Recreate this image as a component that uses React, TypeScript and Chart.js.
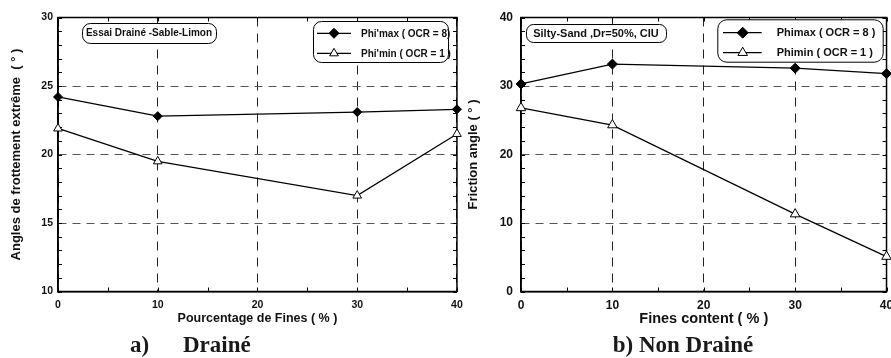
import React, { useEffect, useRef } from 'react';
import { Chart, registerables } from 'chart.js';

Chart.register(...registerables);

// ---------- data ----------
const finesContent = [0, 10, 30, 40];
const drainedPhiMax = [24.2, 22.8, 23.1, 23.3];
const drainedPhiMin = [21.9, 19.5, 17.0, 21.5];
const undrainedPhiMax = [30.3, 33.2, 32.6, 31.8];
const undrainedPhiMin = [26.8, 24.3, 11.3, 5.1];

const xTickValues = [0, 10, 20, 30, 40];
const drainedYTicks = [10, 15, 20, 25, 30];
const undrainedYTicks = [0, 10, 20, 30, 40];

const drainedLabels = ["Phi'max ( OCR = 8)", "Phi'min ( OCR = 1 )"];
const undrainedLabels = ['Phimax ( OCR = 8 )', 'Phimin ( OCR = 1 )'];

const drainedNote = 'Essai Drainé -Sable-Limon';
const undrainedNote = 'Silty-Sand ,Dr=50%, CIU';

const drainedXTitle = 'Pourcentage de Fines ( % )';
const drainedYTitle = 'Angles de frottement extrême  ( ° )';
const undrainedXTitle = 'Fines content ( % )';
const undrainedYTitle = 'Friction angle ( ° )';

const drainedCaption = ['a)', 'Drainé'];
const undrainedCaption = ['b) Non Drainé'];

// ---------- styling ----------
const SANS = '"Liberation Sans", Arial, Helvetica, sans-serif';
const SERIF = '"Liberation Serif", "Times New Roman", serif';
const H = 358;

function drawMarker(ctx: CanvasRenderingContext2D, style: string, x: number, y: number, r: number, fill: string) {
  ctx.beginPath();
  if (style === 'rectRot') {
    ctx.moveTo(x, y - r);
    ctx.lineTo(x + r, y);
    ctx.lineTo(x, y + r);
    ctx.lineTo(x - r, y);
  } else {
    let rad = 0;
    ctx.moveTo(x + Math.sin(rad) * r, y - Math.cos(rad) * r);
    rad += (2 * Math.PI) / 3;
    ctx.lineTo(x + Math.sin(rad) * r, y - Math.cos(rad) * r);
    rad += (2 * Math.PI) / 3;
    ctx.lineTo(x + Math.sin(rad) * r, y - Math.cos(rad) * r);
  }
  ctx.closePath();
  ctx.fillStyle = fill;
  ctx.fill();
  ctx.strokeStyle = '#000';
  ctx.lineWidth = 1;
  ctx.stroke();
}

type Decor = {
  xMinor: number;
  yMinor: number;
  tickLen: number;
  note: { text: string; dx: number; dy: number; w: number; h: number; r: number; size: number };
  legend: {
    labels: string[];
    dx: number; dy: number; w: number; h: number; r: number;
    lx0: number; lx1: number; mx: number; tx: number; rows: number[]; size: number; mr: number;
  };
  caption: { parts: { text: string; x: number }[]; baseline: number; size: number };
};

function makeDecor(d: Decor) {
  return {
    id: 'decor',
    beforeDatasetsDraw(chart: any) {
      const { ctx, chartArea: a, scales } = chart;
      const xs = scales.x;
      const ys = scales.y;
      ctx.save();
      ctx.strokeStyle = '#000';
      ctx.lineWidth = 1;
      ctx.beginPath();
      for (let v = xs.min; v <= xs.max + 1e-9; v += d.xMinor) {
        const px = Math.round(xs.getPixelForValue(v)) + 0.5;
        ctx.moveTo(px, a.bottom);
        ctx.lineTo(px, a.bottom - d.tickLen);
        ctx.moveTo(px, a.top);
        ctx.lineTo(px, a.top + d.tickLen);
      }
      for (let v = ys.min; v <= ys.max + 1e-9; v += d.yMinor) {
        const py = Math.round(ys.getPixelForValue(v)) + 0.5;
        ctx.moveTo(a.left, py);
        ctx.lineTo(a.left + d.tickLen, py);
        ctx.moveTo(a.right, py);
        ctx.lineTo(a.right - d.tickLen, py);
      }
      ctx.stroke();
      ctx.lineWidth = 1.5;
      ctx.strokeRect(a.left, a.top, a.right - a.left, a.bottom - a.top);
      ctx.restore();
    },
    afterDatasetsDraw(chart: any) {
      const { ctx, chartArea: a } = chart;
      ctx.save();
      // note box
      const n = d.note;
      ctx.beginPath();
      ctx.roundRect(a.left + n.dx + 0.5, a.top + n.dy + 0.5, n.w, n.h, n.r);
      ctx.fillStyle = '#fff';
      ctx.fill();
      ctx.strokeStyle = '#000';
      ctx.lineWidth = 1;
      ctx.stroke();
      ctx.fillStyle = '#111';
      ctx.font = `bold ${n.size}px ${SANS}`;
      ctx.textAlign = 'center';
      ctx.textBaseline = 'middle';
      ctx.fillText(n.text, a.left + n.dx + n.w / 2, a.top + n.dy + n.h / 2 + 0.5);

      // legend box
      const L = d.legend;
      ctx.beginPath();
      ctx.roundRect(a.left + L.dx + 0.5, a.top + L.dy + 0.5, L.w, L.h, L.r);
      ctx.fillStyle = '#fff';
      ctx.fill();
      ctx.strokeStyle = '#000';
      ctx.lineWidth = 1;
      ctx.stroke();
      chart.data.datasets.forEach((ds: any, i: number) => {
        const y = a.top + L.rows[i];
        ctx.beginPath();
        ctx.moveTo(a.left + L.lx0, y);
        ctx.lineTo(a.left + L.lx1, y);
        ctx.strokeStyle = '#000';
        ctx.lineWidth = 1.2;
        ctx.stroke();
        drawMarker(ctx, ds.pointStyle, a.left + L.mx, y, L.mr, ds.pointBackgroundColor);
        ctx.fillStyle = '#111';
        ctx.font = `bold ${L.size}px ${SANS}`;
        ctx.textAlign = 'left';
        ctx.textBaseline = 'middle';
        ctx.fillText(L.labels[i], a.left + L.tx, y + 0.5);
      });
      ctx.restore();
    },
    afterDraw(chart: any) {
      const { ctx } = chart;
      ctx.save();
      ctx.fillStyle = '#1a1a1a';
      ctx.font = `bold ${d.caption.size}px ${SERIF}`;
      ctx.textAlign = 'left';
      ctx.textBaseline = 'alphabetic';
      d.caption.parts.forEach((p) => ctx.fillText(p.text, p.x, d.caption.baseline));
      ctx.restore();
    },
  };
}

type PanelCfg = {
  maxData: number[];
  minData: number[];
  labels: string[];
  yMin: number;
  yMax: number;
  yTicks: number[];
  xTitle: string;
  yTitle: string;
  tickSize: number;
  xTitleSize: number;
  yTitleSize: number;
  yAxisWidth: number;
  xAxisHeight: number;
  yTickPad: number;
  xTickPad: number;
  yTitlePad: number;
  padRight: number;
  padBottom: number;
  markerR: number;
  decor: Decor;
};

function buildConfig(p: PanelCfg): any {
  const toPts = (arr: number[]) => finesContent.map((x, i) => ({ x, y: arr[i] }));
  return {
    type: 'line',
    data: {
      datasets: [
        {
          label: p.labels[0],
          data: toPts(p.maxData),
          borderColor: '#000',
          borderWidth: 1.3,
          pointStyle: 'rectRot',
          pointRadius: p.markerR,
          pointBackgroundColor: '#000',
          pointBorderColor: '#000',
          pointBorderWidth: 1,
          tension: 0,
          clip: false,
        },
        {
          label: p.labels[1],
          data: toPts(p.minData),
          borderColor: '#000',
          borderWidth: 1.3,
          pointStyle: 'triangle',
          pointRadius: p.markerR + 0.5,
          pointBackgroundColor: '#fff',
          pointBorderColor: '#000',
          pointBorderWidth: 1,
          tension: 0,
          clip: false,
        },
      ],
    },
    options: {
      animation: false,
      responsive: false,
      devicePixelRatio: 1,
      layout: { padding: { top: 17.5, right: p.padRight, bottom: p.padBottom, left: 0 } },
      plugins: { legend: { display: false }, tooltip: { enabled: false } },
      scales: {
        x: {
          type: 'linear',
          min: 0,
          max: 40,
          afterBuildTicks: (s: any) => {
            s.ticks = xTickValues.map((v) => ({ value: v }));
          },
          afterFit: (s: any) => {
            s.height = p.xAxisHeight;
          },
          ticks: {
            color: '#111',
            font: { family: SANS, size: p.tickSize, weight: 'bold' },
            padding: p.xTickPad,
            maxRotation: 0,
          },
          grid: { color: '#222', lineWidth: 1, drawTicks: false },
          border: { display: true, color: '#000', width: 1.5, dash: [9, 7] },
          title: {
            display: true,
            text: p.xTitle,
            color: '#111',
            font: { family: SANS, size: p.xTitleSize, weight: 'bold' },
            padding: { top: 0, bottom: 0 },
          },
        },
        y: {
          type: 'linear',
          min: p.yMin,
          max: p.yMax,
          afterBuildTicks: (s: any) => {
            s.ticks = p.yTicks.map((v) => ({ value: v }));
          },
          afterFit: (s: any) => {
            s.width = p.yAxisWidth;
          },
          ticks: {
            color: '#111',
            font: { family: SANS, size: p.tickSize, weight: 'bold' },
            padding: p.yTickPad,
          },
          grid: { color: '#555', lineWidth: 1, drawTicks: false },
          border: { display: true, color: '#000', width: 1.5, dash: [8, 6] },
          title: {
            display: true,
            text: p.yTitle,
            color: '#111',
            font: { family: SANS, size: p.yTitleSize, weight: 'bold' },
            padding: { top: p.yTitlePad, bottom: 0 },
          },
        },
      },
    },
    plugins: [makeDecor(p.decor)],
  };
}

const leftPanel: PanelCfg = {
  maxData: drainedPhiMax,
  minData: drainedPhiMin,
  labels: drainedLabels,
  yMin: 10,
  yMax: 30,
  yTicks: drainedYTicks,
  xTitle: drainedXTitle,
  yTitle: drainedYTitle,
  tickSize: 10.5,
  xTitleSize: 12.5,
  yTitleSize: 13,
  yAxisWidth: 58,
  xAxisHeight: 34.5,
  yTickPad: 5,
  xTickPad: 7.2,
  yTitlePad: 8.2,
  padRight: 12,
  padBottom: 32,
  markerR: 4.5,
  decor: {
    xMinor: 5,
    yMinor: 1,
    tickLen: 4,
    note: { text: drainedNote, dx: 24, dy: 5.5, w: 134, h: 20, r: 8, size: 10 },
    legend: {
      labels: drainedLabels,
      dx: 255, dy: 3.5, w: 135, h: 41, r: 8,
      lx0: 259, lx1: 293, mx: 276, tx: 303, rows: [15.8, 35.8], size: 10, mr: 5,
    },
    caption: { parts: [{ text: drainedCaption[0], x: 130 }, { text: drainedCaption[1], x: 183 }], baseline: 352, size: 23 },
  },
};

const rightPanel: PanelCfg = {
  maxData: undrainedPhiMax,
  minData: undrainedPhiMin,
  labels: undrainedLabels,
  yMin: 0,
  yMax: 40,
  yTicks: undrainedYTicks,
  xTitle: undrainedXTitle,
  yTitle: undrainedYTitle,
  tickSize: 12,
  xTitleSize: 14.5,
  yTitleSize: 13,
  yAxisWidth: 61,
  xAxisHeight: 36.2,
  yTickPad: 8,
  xTickPad: 6.8,
  yTitlePad: 5.2,
  padRight: 12.5,
  padBottom: 30.3,
  markerR: 5,
  decor: {
    xMinor: 5,
    yMinor: 2,
    tickLen: 4,
    note: { text: undrainedNote, dx: 5, dy: 6.5, w: 140, h: 18, r: 7, size: 11 },
    legend: {
      labels: undrainedLabels,
      dx: 196.3, dy: 1.8, w: 165.4, h: 42.4, r: 9,
      lx0: 202, lx1: 240.7, mx: 221.7, tx: 255.7, rows: [15.2, 35.2], size: 11, mr: 5.5,
    },
    caption: { parts: [{ text: undrainedCaption[0], x: 152.7 }], baseline: 352, size: 23 },
  },
};

function Panel({ cfg, left, width }: { cfg: PanelCfg; left: number; width: number }) {
  const ref = useRef<HTMLCanvasElement>(null);
  useEffect(() => {
    const chart = new Chart(ref.current as HTMLCanvasElement, buildConfig(cfg));
    return () => chart.destroy();
  }, [cfg]);
  return (
    <canvas
      ref={ref}
      width={width}
      height={H}
      style={{ position: 'absolute', left, top: 0, width, height: H, display: 'block' }}
    />
  );
}

export default function App() {
  return (
    <div
      style={{
        position: 'absolute',
        left: 0,
        top: 0,
        width: 891,
        height: H,
        overflow: 'hidden',
        background: '#fff',
      }}
    >
      <Panel cfg={leftPanel} left={0} width={470} />
      <Panel cfg={rightPanel} left={460} width={440} />
    </div>
  );
}
